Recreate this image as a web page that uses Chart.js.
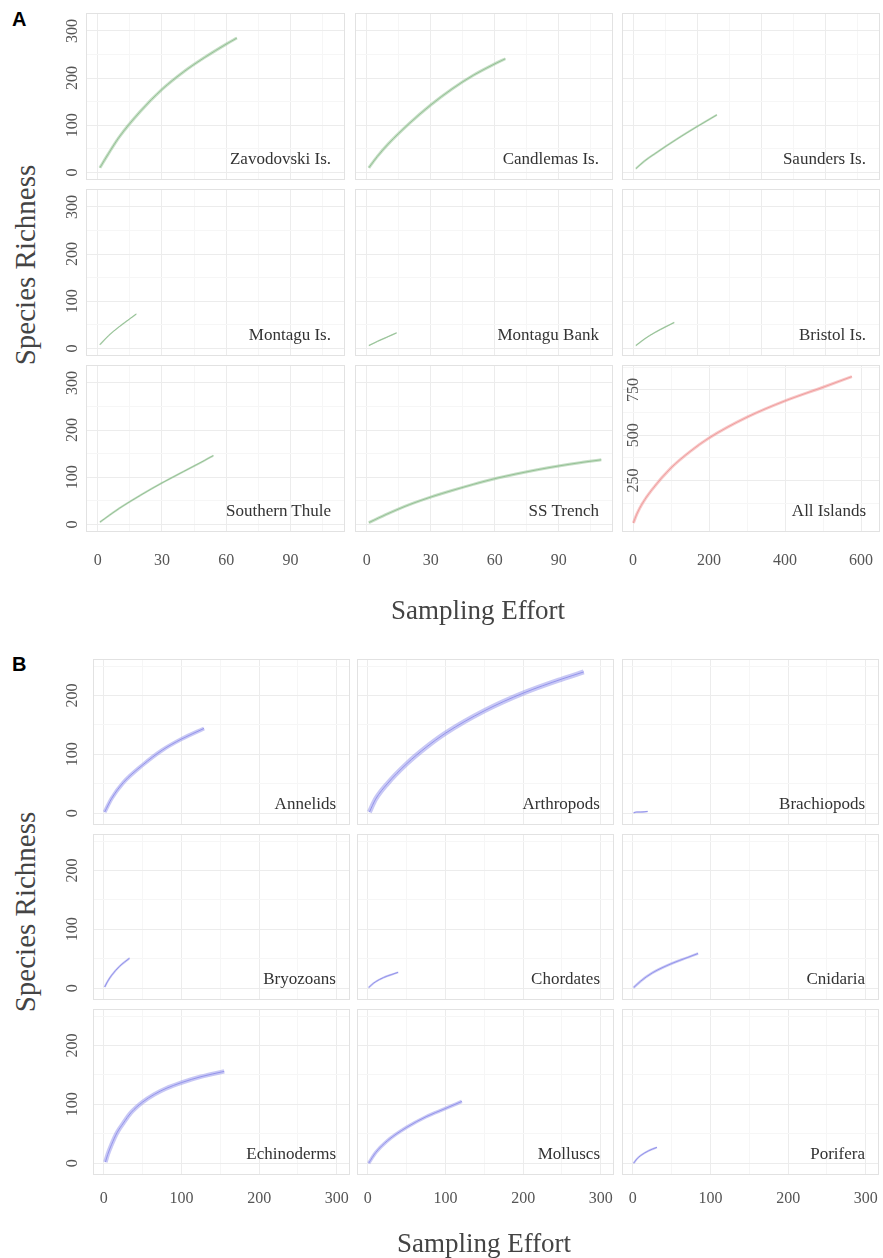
<!DOCTYPE html>
<html>
<head>
<meta charset="utf-8">
<script src="https://cdn.jsdelivr.net/npm/chart.js"></script>
<style>
  body { margin: 0; background: #fff; width: 883px; height: 1258px; position: relative; overflow: hidden; }
  canvas { position: absolute; }
  .facet { position: absolute; font-family: "Liberation Serif", serif; font-size: 17px; line-height: 20px; color: #333; white-space: nowrap; text-align: right; }
  .title { position: absolute; font-family: "Liberation Serif", serif; font-size: 27px; color: #444; white-space: nowrap; transform: translate(-50%, -50%); }
  .title.rot { font-size: 29px; transform: translate(-50%, -50%) rotate(-90deg); }
  .letter { position: absolute; font-family: "Liberation Sans", Arial, sans-serif; font-weight: bold; font-size: 20px; color: #000; }
</style>
</head>
<body>
<script>
//
// data

// A - islands, shared scale
var islandTicksX = [0, 30, 60, 90];
var islandMinorX = [15, 45, 75, 105];
var islandTicksY = [0, 100, 200, 300];
var islandMinorY = [50, 150, 250];

var zavodovskiEffort = [1, 5, 10, 20, 30, 40, 50, 60, 65];
var zavodovskiRichness = [10, 40, 75, 130, 176, 213, 244, 272, 285];
var candlemasEffort = [1, 5, 10, 20, 30, 40, 50, 60, 65];
var candlemasRichness = [10, 34, 60, 104, 143, 177, 206, 230, 241];
var saundersEffort = [1, 5, 10, 20, 30, 39];
var saundersRichness = [8, 24, 40, 70, 98, 122];
var montaguEffort = [1, 5, 10, 15, 18];
var montaguRichness = [8, 27, 46, 63, 73];
var montaguBankEffort = [1, 5, 10, 14];
var montaguBankRichness = [6, 15, 25, 33];
var bristolEffort = [1, 5, 10, 15, 19];
var bristolRichness = [6, 20, 34, 46, 55];
var thuleEffort = [1, 10, 20, 30, 40, 50, 54];
var thuleRichness = [5, 34, 62, 88, 112, 136, 146];
var trenchEffort = [1, 10, 20, 30, 40, 50, 60, 70, 80, 90, 100, 110];
var trenchRichness = [4, 23, 42, 58, 72, 85, 97, 107, 116, 124, 131, 137];

// All Islands has its own scale
var allTicksX = [0, 200, 400, 600];
var allMinorX = [100, 300, 500];
var allTicksY = [250, 500, 750];
var allMinorY = [125, 375, 625, 875];
var allEffort = [1, 10, 25, 50, 100, 150, 200, 300, 400, 500, 576];
var allRichness = [16, 65, 125, 200, 320, 410, 485, 600, 690, 765, 824];

// B - taxa
var taxaTicksX = [0, 100, 200, 300];
var taxaMinorX = [50, 150, 250];
var taxaTicksY = [0, 100, 200];
var taxaMinorY = [50, 150, 250];

var annelidsEffort = [1, 10, 25, 50, 75, 100, 129];
var annelidsRichness = [2, 25, 52, 82, 107, 126, 144];
var arthropodsEffort = [2, 10, 25, 50, 75, 100, 150, 200, 250, 278];
var arthropodsRichness = [2, 24, 50, 84, 112, 136, 174, 204, 228, 240];
var brachiopodsEffort = [1, 5, 10, 19];
var brachiopodsRichness = [1, 2, 2, 3];
var bryozoansEffort = [1, 5, 10, 20, 33];
var bryozoansRichness = [2, 12, 22, 37, 51];
var chordatesEffort = [1, 5, 10, 20, 30, 39];
var chordatesRichness = [1, 6, 11, 18, 23, 27];
var cnidariaEffort = [1, 10, 25, 50, 70, 84];
var cnidariaRichness = [1, 12, 26, 42, 52, 59];
var echinodermsEffort = [2, 5, 10, 17, 25, 35, 50, 65, 80, 100, 125, 155];
var echinodermsRichness = [2, 15, 32, 52, 68, 86, 104, 117, 127, 137, 147, 156];
var molluscsEffort = [1, 10, 25, 50, 75, 100, 121];
var molluscsRichness = [0, 18, 38, 61, 79, 93, 105];
var poriferaEffort = [1, 5, 10, 20, 31];
var poriferaRichness = [0, 7, 13, 21, 27];

//=========================================================================================

var GREEN = { band: 'rgba(150,195,150,0.55)', line: 'rgba(125,175,125,0.8)' };
var PINK = { band: 'rgba(240,155,155,0.55)', line: 'rgba(235,140,140,0.8)' };
var BLUE = { band: 'rgba(145,145,235,0.5)', line: 'rgba(130,130,230,0.85)' };

var panelBorder = {
  id: 'panelBorder',
  afterDraw: function(chart) {
    var a = chart.chartArea, ctx = chart.ctx;
    ctx.save();
    ctx.strokeStyle = '#e2e2e2';
    ctx.lineWidth = 1;
    ctx.strokeRect(a.left + 0.5, a.top + 0.5, a.right - a.left - 1, a.bottom - a.top - 1);
    ctx.restore();
  }
};

function scaleOpts(axis, c) {
  var majors = axis == 'x' ? c.ticksX : c.ticksY;
  var minors = axis == 'x' ? c.minorX : c.minorY;
  var show = axis == 'x' ? c.showX : c.showY;
  var all = majors.concat(minors).sort(function(a, b){ return a - b; });
  return {
    type: 'linear',
    min: axis == 'x' ? c.xr[0] : c.yr[0],
    max: axis == 'x' ? c.xr[1] : c.yr[1],
    afterBuildTicks: function(s) {
      s.ticks = all.map(function(v){ return { value: v }; });
    },
    afterFit: function(s) {
      if (axis == 'x') { s.height = c.xPad; s.paddingLeft = 0; s.paddingRight = 0; }
      else { s.width = c.yPad; s.paddingTop = 0; s.paddingBottom = 0; }
    },
    border: { display: false },
    grid: {
      drawTicks: false,
      lineWidth: 1,
      color: function(ctx) {
        return ctx.tick && majors.indexOf(ctx.tick.value) >= 0 ? '#ececec' : '#f6f6f6';
      }
    },
    ticks: {
      display: show || (axis == 'y' && c.mirrorY),
      autoSkip: false,
      mirror: axis == 'y' && !!c.mirrorY,
      minRotation: axis == 'y' ? 90 : 0,
      maxRotation: axis == 'y' ? 90 : 0,
      crossAlign: axis == 'y' ? 'center' : 'near',
      padding: axis == 'x' ? c.xTickPad : (c.mirrorY ? 0 : c.yTickPad),
      color: '#555',
      font: { family: 'Liberation Serif', size: 16 },
      callback: function(v) { return majors.indexOf(v) >= 0 ? String(v) : ''; }
    }
  };
}

function makePanel(c) {
  c.yPad = c.showY ? c.left - 50 : 0;
  c.xPad = c.showX ? 44 : 0;

  var cv = document.createElement('canvas');
  cv.width = c.w + c.yPad;
  cv.height = c.h + c.xPad;
  cv.style.left = (c.left - c.yPad) + 'px';
  cv.style.top = c.top + 'px';
  cv.style.width = cv.width + 'px';
  cv.style.height = cv.height + 'px';
  document.body.appendChild(cv);

  var pts = c.x.map(function(v, i){ return { x: v, y: c.y[i] }; });

  new Chart(cv.getContext('2d'), {
    type: 'line',
    data: {
      datasets: [
        { data: pts, borderColor: c.col.band, borderWidth: c.bw, pointRadius: 0, cubicInterpolationMode: 'monotone', fill: false },
        { data: pts, borderColor: c.col.line, borderWidth: 1, pointRadius: 0, cubicInterpolationMode: 'monotone', fill: false }
      ]
    },
    options: {
      responsive: false,
      animation: false,
      devicePixelRatio: 1,
      layout: { padding: 0 },
      plugins: { legend: { display: false }, tooltip: { enabled: false } },
      scales: { x: scaleOpts('x', c), y: scaleOpts('y', c) }
    },
    plugins: [panelBorder]
  });

  var lab = document.createElement('div');
  lab.className = 'facet';
  lab.textContent = c.name;
  lab.style.right = (883 - (c.left + c.w) + 14) + 'px';
  lab.style.top = (c.top + c.h - 31) + 'px';
  document.body.appendChild(lab);
}

function addText(cls, txt, x, y) {
  var d = document.createElement('div');
  d.className = cls;
  d.textContent = txt;
  d.style.left = x + 'px';
  d.style.top = y + 'px';
  document.body.appendChild(d);
}

// grid A
var islands = [
  ['Zavodovski Is.', zavodovskiEffort, zavodovskiRichness, 3],
  ['Candlemas Is.', candlemasEffort, candlemasRichness, 3],
  ['Saunders Is.', saundersEffort, saundersRichness, 2],
  ['Montagu Is.', montaguEffort, montaguRichness, 1.5],
  ['Montagu Bank', montaguBankEffort, montaguBankRichness, 1.5],
  ['Bristol Is.', bristolEffort, bristolRichness, 1.5],
  ['Southern Thule', thuleEffort, thuleRichness, 2],
  ['SS Trench', trenchEffort, trenchRichness, 3]
];
var colsA = [[86, 259], [355, 258], [622, 258]];
var rowsA = [[13, 167], [189, 167], [365, 167]];

islands.forEach(function(p, i) {
  var r = Math.floor(i / 3), k = i % 3;
  makePanel({
    name: p[0], x: p[1], y: p[2], bw: p[3], col: GREEN,
    left: colsA[k][0], w: colsA[k][1], top: rowsA[r][0], h: rowsA[r][1],
    xr: [-5.5, 115.5], yr: [-16, 338],
    ticksX: islandTicksX, minorX: islandMinorX, ticksY: islandTicksY, minorY: islandMinorY,
    showX: r == 2, showY: k == 0, xTickPad: 19, yTickPad: 1
  });
});
makePanel({
  name: 'All Islands', x: allEffort, y: allRichness, bw: 3, col: PINK,
  left: colsA[2][0], w: colsA[2][1], top: rowsA[2][0], h: rowsA[2][1],
  xr: [-29, 650], yr: [-34, 888],
  ticksX: allTicksX, minorX: allMinorX, ticksY: allTicksY, minorY: allMinorY,
  showX: true, showY: false, mirrorY: true, xTickPad: 19, yTickPad: 0
});

// grid B
var taxa = [
  ['Annelids', annelidsEffort, annelidsRichness, 4],
  ['Arthropods', arthropodsEffort, arthropodsRichness, 5],
  ['Brachiopods', brachiopodsEffort, brachiopodsRichness, 1.5],
  ['Bryozoans', bryozoansEffort, bryozoansRichness, 2],
  ['Chordates', chordatesEffort, chordatesRichness, 2],
  ['Cnidaria', cnidariaEffort, cnidariaRichness, 2.5],
  ['Echinoderms', echinodermsEffort, echinodermsRichness, 4.5],
  ['Molluscs', molluscsEffort, molluscsRichness, 3.5],
  ['Porifera', poriferaEffort, poriferaRichness, 2]
];
var colsB = [[93, 257], [357, 257], [622, 257]];
var rowsB = [[659, 166], [834, 166], [1009, 166]];

taxa.forEach(function(p, i) {
  var r = Math.floor(i / 3), k = i % 3;
  makePanel({
    name: p[0], x: p[1], y: p[2], bw: p[3], col: BLUE,
    left: colsB[k][0], w: colsB[k][1], top: rowsB[r][0], h: rowsB[r][1],
    xr: [-14, 317], yr: [-20, 262],
    ticksX: taxaTicksX, minorX: taxaMinorX, ticksY: taxaTicksY, minorY: taxaMinorY,
    showX: r == 2, showY: k == 0, xTickPad: 14, yTickPad: 8
  });
});

// titles
addText('letter', 'A', 12, 8);
addText('letter', 'B', 12, 653);
addText('title rot', 'Species Richness', 25, 265);
addText('title', 'Sampling Effort', 478, 610);
addText('title rot', 'Species Richness', 25, 912);
addText('title', 'Sampling Effort', 484, 1243);
</script>
</body>
</html>
